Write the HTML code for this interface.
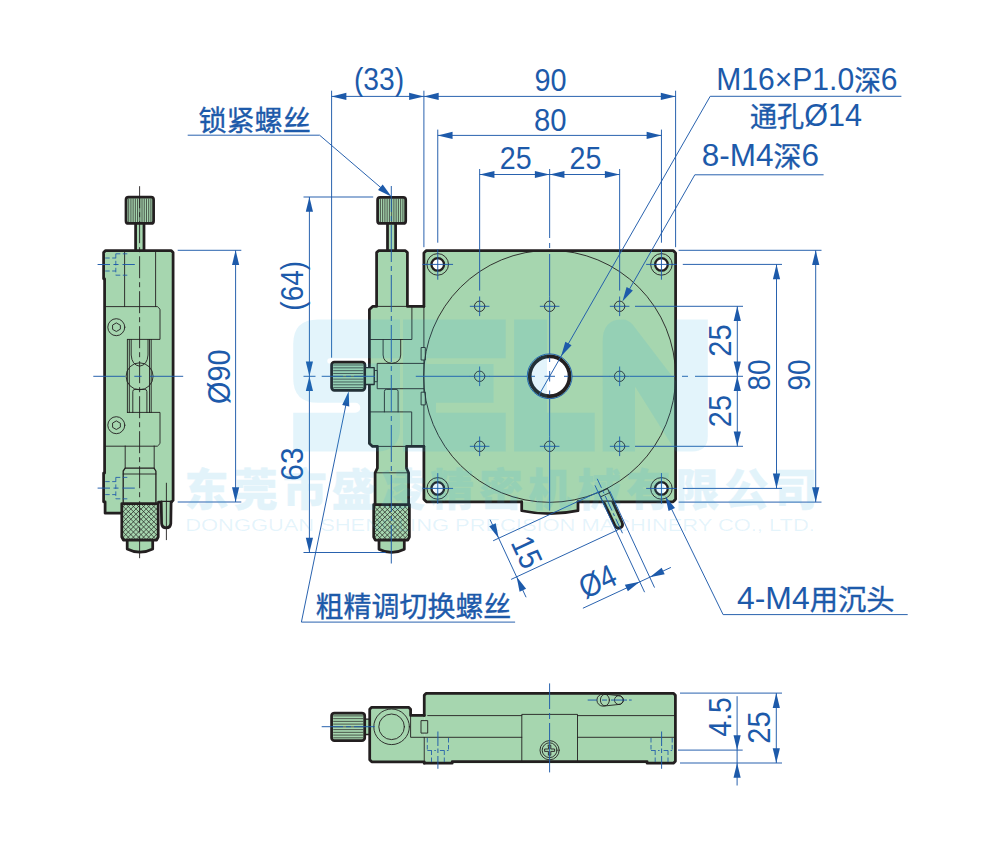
<!DOCTYPE html>
<html lang="zh-CN">
<head>
<meta charset="utf-8">
<title>Rotation stage drawing</title>
<style>
html,body{margin:0;padding:0;background:#fff;}
body{width:1001px;height:853px;overflow:hidden;}
svg{display:block;}
.t{font-family:"Liberation Sans","Noto Sans CJK SC",sans-serif;fill:#1d5aaa;}
.c{stroke:#1d5aaa;stroke-width:0.35;}
.g{fill:#a6d6af;stroke:none;}
.k{fill:none;stroke:#231f20;stroke-width:2.75;stroke-linejoin:round;stroke-linecap:round;}
.kg{fill:#a6d6af;stroke:#231f20;stroke-width:2.75;stroke-linejoin:round;stroke-linecap:round;}
.kw{fill:#ffffff;stroke:#231f20;stroke-linejoin:round;}
.m{fill:none;stroke:#231f20;stroke-width:1.3;stroke-linejoin:round;stroke-linecap:round;}
.mg{fill:#a6d6af;stroke:#231f20;stroke-width:1.3;stroke-linejoin:round;stroke-linecap:round;}
.n{fill:none;stroke:#231f20;stroke-width:0.9;stroke-linejoin:round;stroke-linecap:round;}
.ng{fill:#a6d6af;stroke:#231f20;stroke-width:0.9;stroke-linejoin:round;}
.b{fill:none;stroke:#1d5aaa;stroke-width:0.95;}
.bd{fill:none;stroke:#1d5aaa;stroke-width:0.85;stroke-dasharray:4.5 2.5;}
.bc{fill:none;stroke:#1d5aaa;stroke-width:0.95;}
.kc{fill:none;stroke:#231f20;stroke-width:0.9;stroke-dasharray:22 4 5 4;}
.ar{fill:#1d5aaa;stroke:none;}
.h{fill:none;stroke:#231f20;stroke-width:0.7;}
.wm{fill:#2aa9e0;fill-opacity:0.13;stroke:none;}
.wt{font-family:"Liberation Sans","Noto Sans CJK SC",sans-serif;font-weight:900;fill:#2aa9e0;stroke:#2aa9e0;stroke-width:0.4;stroke-linejoin:round;}
.wo{font-family:"Liberation Sans",sans-serif;fill:#2aa9e0;fill-opacity:0.12;stroke:none;}
</style>
</head>
<body>
<svg width="1001" height="853" viewBox="0 0 1001 853">
<rect x="0" y="0" width="1001" height="853" fill="#ffffff"/>

<g id="left-view">
<rect class="kg" x="135.6" y="222" width="8.4" height="30"/>
<rect class="kg" x="126" y="197.2" width="27.6" height="26.2" rx="2.5"/>
<line class="h" x1="128.7" y1="198.6" x2="128.7" y2="222"/>
<line class="h" x1="130.92" y1="198.6" x2="130.92" y2="222"/>
<line class="h" x1="133.14" y1="198.6" x2="133.14" y2="222"/>
<line class="h" x1="135.36" y1="198.6" x2="135.36" y2="222"/>
<line class="h" x1="137.58" y1="198.6" x2="137.58" y2="222"/>
<line class="h" x1="139.8" y1="198.6" x2="139.8" y2="222"/>
<line class="h" x1="142.02" y1="198.6" x2="142.02" y2="222"/>
<line class="h" x1="144.24" y1="198.6" x2="144.24" y2="222"/>
<line class="h" x1="146.46" y1="198.6" x2="146.46" y2="222"/>
<line class="h" x1="148.68" y1="198.6" x2="148.68" y2="222"/>
<line class="h" x1="150.9" y1="198.6" x2="150.9" y2="222"/>
<path class="g" d="M104.6 250.5 H173.1 V502 H159 V503 H123 V513.2 H105.1 V502 H103.6 V473 H104.6 V278.8 H103.6 V250.5 Z"/>
<line class="n" x1="124.6" y1="250.5" x2="124.6" y2="306.6"/>
<line class="n" x1="155.6" y1="250.5" x2="155.6" y2="306.6"/>
<path class="n" d="M104.7 306.6 H157.4 L160 309.2 V339.4 H127.4"/>
<path class="n" d="M127.4 412.4 H160 V443.6 L157.4 446.2 H104.7"/>
<circle class="ng" cx="139.6" cy="376.3" r="13.5"/>
<path class="n" d="M127.4 339.4 V412.6 M129.3 339.4 V412.6 M149.5 339.4 V412.6 M151.2 339.4 V412.6" stroke-width="0.8"/>
<path class="n" d="M131.2 339.4 V355 Q131.8 365 139.6 366.2 Q147.4 365 148 355 V339.4"/>
<path class="n" d="M132.8 412.6 V391.6 Q132.8 389.4 135 389.4 H144.7 Q146.9 389.4 146.9 391.6 V412.6"/>
<circle class="n" cx="116.3" cy="327.2" r="8.5"/>
<polygon class="n" points="120.02,329.35 116.3,331.5 112.58,329.35 112.58,325.05 116.3,322.9 120.02,325.05"/>
<circle class="n" cx="116.3" cy="425.2" r="8.5"/>
<polygon class="n" points="120.02,427.35 116.3,429.5 112.58,427.35 112.58,423.05 116.3,420.9 120.02,423.05"/>
<line class="n" x1="125.2" y1="446" x2="125.2" y2="468.2"/>
<line class="n" x1="154.2" y1="446" x2="154.2" y2="468.2"/>
<path class="m" d="M123.2 503.6 V471 L125.2 468.2 H154 L155.9 471 V503.6"/>
<line class="n" x1="123.2" y1="474" x2="155.9" y2="474"/>
<path class="k" d="M103.6 278.8 V252.5 L105.6 250.5 H171.1 L173.1 252.5 V500.4 L171.5 502 H158.5"/>
<path class="k" d="M104.6 278.8 V473" stroke-width="2.5"/>
<path class="k" d="M103.6 473 V501.8"/>
<path class="k" d="M105.1 501.8 V513.2 H121.8"/>
<path class="kg" d="M161.2 502 L161.6 523.5 Q162 527.8 166.2 527.8 Q170.4 527.8 170.8 523.5 L171.1 502"/>
<line class="n" x1="166.4" y1="483.2" x2="166.4" y2="539.7"/>
<path class="kg" d="M121.8 503.6 H158.2 V537 L156.6 540 H123.4 L121.8 537 Z"/>
<clipPath id="kc1"><rect x="122.8" y="504.6" width="34.4" height="34.4"/></clipPath>
<g clip-path="url(#kc1)">
<line class="h" x1="51" y1="500.6" x2="93.4" y2="543" stroke-width="0.75"/>
<line class="h" x1="93.4" y1="500.6" x2="51" y2="543" stroke-width="0.75"/>
<line class="h" x1="56.1" y1="500.6" x2="98.5" y2="543" stroke-width="0.75"/>
<line class="h" x1="98.5" y1="500.6" x2="56.1" y2="543" stroke-width="0.75"/>
<line class="h" x1="61.2" y1="500.6" x2="103.6" y2="543" stroke-width="0.75"/>
<line class="h" x1="103.6" y1="500.6" x2="61.2" y2="543" stroke-width="0.75"/>
<line class="h" x1="66.3" y1="500.6" x2="108.7" y2="543" stroke-width="0.75"/>
<line class="h" x1="108.7" y1="500.6" x2="66.3" y2="543" stroke-width="0.75"/>
<line class="h" x1="71.4" y1="500.6" x2="113.8" y2="543" stroke-width="0.75"/>
<line class="h" x1="113.8" y1="500.6" x2="71.4" y2="543" stroke-width="0.75"/>
<line class="h" x1="76.5" y1="500.6" x2="118.9" y2="543" stroke-width="0.75"/>
<line class="h" x1="118.9" y1="500.6" x2="76.5" y2="543" stroke-width="0.75"/>
<line class="h" x1="81.6" y1="500.6" x2="124" y2="543" stroke-width="0.75"/>
<line class="h" x1="124" y1="500.6" x2="81.6" y2="543" stroke-width="0.75"/>
<line class="h" x1="86.7" y1="500.6" x2="129.1" y2="543" stroke-width="0.75"/>
<line class="h" x1="129.1" y1="500.6" x2="86.7" y2="543" stroke-width="0.75"/>
<line class="h" x1="91.8" y1="500.6" x2="134.2" y2="543" stroke-width="0.75"/>
<line class="h" x1="134.2" y1="500.6" x2="91.8" y2="543" stroke-width="0.75"/>
<line class="h" x1="96.9" y1="500.6" x2="139.3" y2="543" stroke-width="0.75"/>
<line class="h" x1="139.3" y1="500.6" x2="96.9" y2="543" stroke-width="0.75"/>
<line class="h" x1="102" y1="500.6" x2="144.4" y2="543" stroke-width="0.75"/>
<line class="h" x1="144.4" y1="500.6" x2="102" y2="543" stroke-width="0.75"/>
<line class="h" x1="107.1" y1="500.6" x2="149.5" y2="543" stroke-width="0.75"/>
<line class="h" x1="149.5" y1="500.6" x2="107.1" y2="543" stroke-width="0.75"/>
<line class="h" x1="112.2" y1="500.6" x2="154.6" y2="543" stroke-width="0.75"/>
<line class="h" x1="154.6" y1="500.6" x2="112.2" y2="543" stroke-width="0.75"/>
<line class="h" x1="117.3" y1="500.6" x2="159.7" y2="543" stroke-width="0.75"/>
<line class="h" x1="159.7" y1="500.6" x2="117.3" y2="543" stroke-width="0.75"/>
<line class="h" x1="122.4" y1="500.6" x2="164.8" y2="543" stroke-width="0.75"/>
<line class="h" x1="164.8" y1="500.6" x2="122.4" y2="543" stroke-width="0.75"/>
<line class="h" x1="127.5" y1="500.6" x2="169.9" y2="543" stroke-width="0.75"/>
<line class="h" x1="169.9" y1="500.6" x2="127.5" y2="543" stroke-width="0.75"/>
<line class="h" x1="132.6" y1="500.6" x2="175" y2="543" stroke-width="0.75"/>
<line class="h" x1="175" y1="500.6" x2="132.6" y2="543" stroke-width="0.75"/>
<line class="h" x1="137.7" y1="500.6" x2="180.1" y2="543" stroke-width="0.75"/>
<line class="h" x1="180.1" y1="500.6" x2="137.7" y2="543" stroke-width="0.75"/>
<line class="h" x1="142.8" y1="500.6" x2="185.2" y2="543" stroke-width="0.75"/>
<line class="h" x1="185.2" y1="500.6" x2="142.8" y2="543" stroke-width="0.75"/>
<line class="h" x1="147.9" y1="500.6" x2="190.3" y2="543" stroke-width="0.75"/>
<line class="h" x1="190.3" y1="500.6" x2="147.9" y2="543" stroke-width="0.75"/>
<line class="h" x1="153" y1="500.6" x2="195.4" y2="543" stroke-width="0.75"/>
<line class="h" x1="195.4" y1="500.6" x2="153" y2="543" stroke-width="0.75"/>
<line class="h" x1="158.1" y1="500.6" x2="200.5" y2="543" stroke-width="0.75"/>
<line class="h" x1="200.5" y1="500.6" x2="158.1" y2="543" stroke-width="0.75"/>
<line class="h" x1="163.2" y1="500.6" x2="205.6" y2="543" stroke-width="0.75"/>
<line class="h" x1="205.6" y1="500.6" x2="163.2" y2="543" stroke-width="0.75"/>
<line class="h" x1="168.3" y1="500.6" x2="210.7" y2="543" stroke-width="0.75"/>
<line class="h" x1="210.7" y1="500.6" x2="168.3" y2="543" stroke-width="0.75"/>
<line class="h" x1="173.4" y1="500.6" x2="215.8" y2="543" stroke-width="0.75"/>
<line class="h" x1="215.8" y1="500.6" x2="173.4" y2="543" stroke-width="0.75"/>
<line class="h" x1="178.5" y1="500.6" x2="220.9" y2="543" stroke-width="0.75"/>
<line class="h" x1="220.9" y1="500.6" x2="178.5" y2="543" stroke-width="0.75"/>
<line class="h" x1="183.6" y1="500.6" x2="226" y2="543" stroke-width="0.75"/>
<line class="h" x1="226" y1="500.6" x2="183.6" y2="543" stroke-width="0.75"/>
<line class="h" x1="188.7" y1="500.6" x2="231.1" y2="543" stroke-width="0.75"/>
<line class="h" x1="231.1" y1="500.6" x2="188.7" y2="543" stroke-width="0.75"/>
<line class="h" x1="193.8" y1="500.6" x2="236.2" y2="543" stroke-width="0.75"/>
<line class="h" x1="236.2" y1="500.6" x2="193.8" y2="543" stroke-width="0.75"/>
<line class="h" x1="198.9" y1="500.6" x2="241.3" y2="543" stroke-width="0.75"/>
<line class="h" x1="241.3" y1="500.6" x2="198.9" y2="543" stroke-width="0.75"/>
</g>
<path class="kg" d="M127.2 540 V549 Q139.9 555.4 152.7 549 V540 Z"/>
<path class="bd" d="M105.2 258 H115.8 M105.2 271 H115.8 M115.8 253.8 V275.2 M115.8 253.8 H128.7 M115.8 275.2 H128.7"/>
<path class="b" d="M97.6 264.5 H110 M113.5 264.5 H118.5 M122.5 264.5 H134.8"/>
<path class="bd" d="M105.2 481.6 H115.8 M105.2 494.6 H115.8 M115.8 477.4 V498.8 M115.8 477.4 H128.7 M115.8 498.8 H128.7"/>
<path class="b" d="M97.6 488.1 H110 M113.5 488.1 H118.5 M122.5 488.1 H134.8"/>
<line class="kc" x1="139.6" y1="186.2" x2="139.6" y2="560" stroke-dasharray="24 4 5 4"/>
<path class="b" d="M93.3 376.3 H125.2 M134.3 376.3 H141.6 M149.8 376.3 H183.2"/>
</g>
<line class="b" x1="177.7" y1="250.3" x2="241.3" y2="250.3"/>
<line class="b" x1="177.7" y1="502" x2="241.3" y2="502"/>
<line class="b" x1="235.6" y1="250.3" x2="235.6" y2="502"/>
<polygon class="ar" points="235.6,250.3 239.2,265.1 232,265.1"/>
<polygon class="ar" points="235.6,502 232,487.2 239.2,487.2"/>
<text class="t" transform="translate(229.6,376.7) rotate(-90)" x="-27.25" y="0" font-size="32" textLength="54.51" lengthAdjust="spacingAndGlyphs">Ø90</text>
<g id="top-view">
<rect class="kg" x="387.5" y="222" width="8.1" height="30"/>
<rect class="kg" x="377.6" y="197.3" width="28.1" height="26.1" rx="2.5"/>
<line class="h" x1="380.4" y1="198.7" x2="380.4" y2="222"/>
<line class="h" x1="382.65" y1="198.7" x2="382.65" y2="222"/>
<line class="h" x1="384.9" y1="198.7" x2="384.9" y2="222"/>
<line class="h" x1="387.15" y1="198.7" x2="387.15" y2="222"/>
<line class="h" x1="389.4" y1="198.7" x2="389.4" y2="222"/>
<line class="h" x1="391.65" y1="198.7" x2="391.65" y2="222"/>
<line class="h" x1="393.9" y1="198.7" x2="393.9" y2="222"/>
<line class="h" x1="396.15" y1="198.7" x2="396.15" y2="222"/>
<line class="h" x1="398.4" y1="198.7" x2="398.4" y2="222"/>
<line class="h" x1="400.65" y1="198.7" x2="400.65" y2="222"/>
<line class="h" x1="402.9" y1="198.7" x2="402.9" y2="222"/>
<rect class="kg" x="331.6" y="362.1" width="33.3" height="28.2" rx="2.8"/>
<line class="h" x1="333.2" y1="365" x2="363.4" y2="365"/>
<line class="h" x1="333.2" y1="367.83" x2="363.4" y2="367.83"/>
<line class="h" x1="333.2" y1="370.66" x2="363.4" y2="370.66"/>
<line class="h" x1="333.2" y1="373.49" x2="363.4" y2="373.49"/>
<line class="h" x1="333.2" y1="376.32" x2="363.4" y2="376.32"/>
<line class="h" x1="333.2" y1="379.15" x2="363.4" y2="379.15"/>
<line class="h" x1="333.2" y1="381.98" x2="363.4" y2="381.98"/>
<line class="h" x1="333.2" y1="384.81" x2="363.4" y2="384.81"/>
<line class="h" x1="333.2" y1="387.64" x2="363.4" y2="387.64"/>
<path class="g" d="M376.6 250.65 H407.4 V306.4 H424 V446.4 H406.5 V468.2 L408.6 472.8 V505 H375.1 V472.8 L377.4 468.2 V446.4 H372.4 L369.4 443.4 V309.4 L372.4 306.4 H376.6 Z"/>
<path class="g" d="M423.9 250.5 H675.6 V501.8 H423.9 Z"/>
<path class="g" d="M521.7 501.8 V510.73 A137.3 137.3 0 0 0 578 510.64 V501.8 Z"/>
<path class="n" d="M369.4 339.5 H411.9 V306.4"/>
<path class="n" d="M369.4 411.9 H411.7 V446.4"/>
<line class="n" x1="376.6" y1="306.4" x2="407.4" y2="306.4"/>
<line class="n" x1="377.4" y1="446.4" x2="406.5" y2="446.4"/>
<line class="n" x1="423.9" y1="306.4" x2="423.9" y2="446.4"/>
<path class="n" d="M383.1 339.5 V355 Q383.4 362.6 391.9 363.4 Q400.4 362.6 400.7 355 V339.5"/>
<path class="n" d="M423.9 363.4 H377.2 V388.7 H423.9"/>
<path class="n" d="M384.4 411.9 V391.4 Q384.4 389.4 386.4 389.4 H396.1 Q398.1 389.4 398.1 391.4 V411.9"/>
<rect class="ng" x="421.1" y="347.5" width="4.2" height="12.5"/>
<rect class="ng" x="421.1" y="392.2" width="4.2" height="12.7"/>
<line class="n" x1="375.1" y1="472.8" x2="408.6" y2="472.8"/>
<circle class="n" cx="549.65" cy="376.3" r="126" stroke-width="1.05"/>
<path class="n" d="M598.53 492.52 L605.26 507.04 M607.42 488.4 L614.15 502.91 M598.65 492.8 L607.54 488.67 M600.55 496.88 L609.44 492.75"/>
<path class="k" d="M423.9 306.4 H407.4 V252.6 L405.4 250.65 H378.6 L376.6 252.6 V306.4 H372.6 L369.4 309.4 V443.4 L372.6 446.4 H377.4 V468.2 L375.1 472.8 V504.6"/>
<path class="k" d="M423.9 446.4 H406.5 V468.2 L408.6 472.8 V504.6"/>
<rect class="ng" x="374.2" y="370.5" width="3" height="11.2"/>
<rect class="mg" x="365.4" y="367.6" width="8.8" height="16.9"/>
<path class="k" d="M423.9 306.4 V253 L426.4 250.5 H673.1 L675.6 253 V499.3 L673.1 501.8 H578"/>
<path class="k" d="M521.7 501.8 H426.4 L423.9 499.3 V446.4"/>
<path class="k" d="M521.7 501.8 V510.73 A137.3 137.3 0 0 0 578 510.64 V501.8"/>
<clipPath id="pinclip"><rect x="580" y="501.8" width="70" height="60"/></clipPath>
<g clip-path="url(#pinclip)">
<path class="kg" d="M600.85 495.86 L614.8 525.21 Q616.87 529.43 620.32 527.83 Q623.77 526.23 621.88 521.93 L608.47 492.32 Z"/>
</g>
<path class="kg" d="M373.7 504.6 H409.4 V537 L407.8 540 H375.3 L373.7 537 Z"/>
<clipPath id="kc2"><rect x="374.7" y="505.6" width="33.7" height="33.4"/></clipPath>
<g clip-path="url(#kc2)">
<line class="h" x1="302.9" y1="501.6" x2="344.3" y2="543" stroke-width="0.75"/>
<line class="h" x1="344.3" y1="501.6" x2="302.9" y2="543" stroke-width="0.75"/>
<line class="h" x1="308" y1="501.6" x2="349.4" y2="543" stroke-width="0.75"/>
<line class="h" x1="349.4" y1="501.6" x2="308" y2="543" stroke-width="0.75"/>
<line class="h" x1="313.1" y1="501.6" x2="354.5" y2="543" stroke-width="0.75"/>
<line class="h" x1="354.5" y1="501.6" x2="313.1" y2="543" stroke-width="0.75"/>
<line class="h" x1="318.2" y1="501.6" x2="359.6" y2="543" stroke-width="0.75"/>
<line class="h" x1="359.6" y1="501.6" x2="318.2" y2="543" stroke-width="0.75"/>
<line class="h" x1="323.3" y1="501.6" x2="364.7" y2="543" stroke-width="0.75"/>
<line class="h" x1="364.7" y1="501.6" x2="323.3" y2="543" stroke-width="0.75"/>
<line class="h" x1="328.4" y1="501.6" x2="369.8" y2="543" stroke-width="0.75"/>
<line class="h" x1="369.8" y1="501.6" x2="328.4" y2="543" stroke-width="0.75"/>
<line class="h" x1="333.5" y1="501.6" x2="374.9" y2="543" stroke-width="0.75"/>
<line class="h" x1="374.9" y1="501.6" x2="333.5" y2="543" stroke-width="0.75"/>
<line class="h" x1="338.6" y1="501.6" x2="380" y2="543" stroke-width="0.75"/>
<line class="h" x1="380" y1="501.6" x2="338.6" y2="543" stroke-width="0.75"/>
<line class="h" x1="343.7" y1="501.6" x2="385.1" y2="543" stroke-width="0.75"/>
<line class="h" x1="385.1" y1="501.6" x2="343.7" y2="543" stroke-width="0.75"/>
<line class="h" x1="348.8" y1="501.6" x2="390.2" y2="543" stroke-width="0.75"/>
<line class="h" x1="390.2" y1="501.6" x2="348.8" y2="543" stroke-width="0.75"/>
<line class="h" x1="353.9" y1="501.6" x2="395.3" y2="543" stroke-width="0.75"/>
<line class="h" x1="395.3" y1="501.6" x2="353.9" y2="543" stroke-width="0.75"/>
<line class="h" x1="359" y1="501.6" x2="400.4" y2="543" stroke-width="0.75"/>
<line class="h" x1="400.4" y1="501.6" x2="359" y2="543" stroke-width="0.75"/>
<line class="h" x1="364.1" y1="501.6" x2="405.5" y2="543" stroke-width="0.75"/>
<line class="h" x1="405.5" y1="501.6" x2="364.1" y2="543" stroke-width="0.75"/>
<line class="h" x1="369.2" y1="501.6" x2="410.6" y2="543" stroke-width="0.75"/>
<line class="h" x1="410.6" y1="501.6" x2="369.2" y2="543" stroke-width="0.75"/>
<line class="h" x1="374.3" y1="501.6" x2="415.7" y2="543" stroke-width="0.75"/>
<line class="h" x1="415.7" y1="501.6" x2="374.3" y2="543" stroke-width="0.75"/>
<line class="h" x1="379.4" y1="501.6" x2="420.8" y2="543" stroke-width="0.75"/>
<line class="h" x1="420.8" y1="501.6" x2="379.4" y2="543" stroke-width="0.75"/>
<line class="h" x1="384.5" y1="501.6" x2="425.9" y2="543" stroke-width="0.75"/>
<line class="h" x1="425.9" y1="501.6" x2="384.5" y2="543" stroke-width="0.75"/>
<line class="h" x1="389.6" y1="501.6" x2="431" y2="543" stroke-width="0.75"/>
<line class="h" x1="431" y1="501.6" x2="389.6" y2="543" stroke-width="0.75"/>
<line class="h" x1="394.7" y1="501.6" x2="436.1" y2="543" stroke-width="0.75"/>
<line class="h" x1="436.1" y1="501.6" x2="394.7" y2="543" stroke-width="0.75"/>
<line class="h" x1="399.8" y1="501.6" x2="441.2" y2="543" stroke-width="0.75"/>
<line class="h" x1="441.2" y1="501.6" x2="399.8" y2="543" stroke-width="0.75"/>
<line class="h" x1="404.9" y1="501.6" x2="446.3" y2="543" stroke-width="0.75"/>
<line class="h" x1="446.3" y1="501.6" x2="404.9" y2="543" stroke-width="0.75"/>
<line class="h" x1="410" y1="501.6" x2="451.4" y2="543" stroke-width="0.75"/>
<line class="h" x1="451.4" y1="501.6" x2="410" y2="543" stroke-width="0.75"/>
<line class="h" x1="415.1" y1="501.6" x2="456.5" y2="543" stroke-width="0.75"/>
<line class="h" x1="456.5" y1="501.6" x2="415.1" y2="543" stroke-width="0.75"/>
<line class="h" x1="420.2" y1="501.6" x2="461.6" y2="543" stroke-width="0.75"/>
<line class="h" x1="461.6" y1="501.6" x2="420.2" y2="543" stroke-width="0.75"/>
<line class="h" x1="425.3" y1="501.6" x2="466.7" y2="543" stroke-width="0.75"/>
<line class="h" x1="466.7" y1="501.6" x2="425.3" y2="543" stroke-width="0.75"/>
<line class="h" x1="430.4" y1="501.6" x2="471.8" y2="543" stroke-width="0.75"/>
<line class="h" x1="471.8" y1="501.6" x2="430.4" y2="543" stroke-width="0.75"/>
<line class="h" x1="435.5" y1="501.6" x2="476.9" y2="543" stroke-width="0.75"/>
<line class="h" x1="476.9" y1="501.6" x2="435.5" y2="543" stroke-width="0.75"/>
<line class="h" x1="440.6" y1="501.6" x2="482" y2="543" stroke-width="0.75"/>
<line class="h" x1="482" y1="501.6" x2="440.6" y2="543" stroke-width="0.75"/>
<line class="h" x1="445.7" y1="501.6" x2="487.1" y2="543" stroke-width="0.75"/>
<line class="h" x1="487.1" y1="501.6" x2="445.7" y2="543" stroke-width="0.75"/>
<line class="h" x1="450.8" y1="501.6" x2="492.2" y2="543" stroke-width="0.75"/>
<line class="h" x1="492.2" y1="501.6" x2="450.8" y2="543" stroke-width="0.75"/>
</g>
<path class="kg" d="M379 540 V549.2 Q391.6 555.6 404.3 549.2 V540 Z"/>
<circle class="kw" cx="549.65" cy="376.3" r="19.9" stroke-width="3.7"/>
<circle class="b" cx="549.65" cy="376.3" r="22.4" stroke-width="0.9"/>
<circle class="n" cx="437.75" cy="264.4" r="10.8"/>
<circle class="kw" cx="437.75" cy="264.4" r="6.3" stroke-width="2.3"/>
<line class="b" x1="422.45" y1="264.4" x2="453.05" y2="264.4"/>
<line class="b" x1="437.75" y1="249.1" x2="437.75" y2="279.7"/>
<circle class="n" cx="437.75" cy="488.4" r="10.8"/>
<circle class="kw" cx="437.75" cy="488.4" r="6.3" stroke-width="2.3"/>
<line class="b" x1="422.45" y1="488.4" x2="453.05" y2="488.4"/>
<line class="b" x1="437.75" y1="473.1" x2="437.75" y2="503.7"/>
<circle class="n" cx="661.45" cy="264.4" r="10.8"/>
<circle class="kw" cx="661.45" cy="264.4" r="6.3" stroke-width="2.3"/>
<line class="b" x1="646.15" y1="264.4" x2="676.75" y2="264.4"/>
<line class="b" x1="661.45" y1="249.1" x2="661.45" y2="279.7"/>
<circle class="n" cx="661.45" cy="488.4" r="10.8"/>
<circle class="kw" cx="661.45" cy="488.4" r="6.3" stroke-width="2.3"/>
<line class="b" x1="646.15" y1="488.4" x2="676.75" y2="488.4"/>
<line class="b" x1="661.45" y1="473.1" x2="661.45" y2="503.7"/>
<circle class="n" cx="479.65" cy="306.3" r="5.2" stroke="#1a2f5e" stroke-width="1"/>
<line class="b" x1="469.85" y1="306.3" x2="489.45" y2="306.3"/>
<line class="b" x1="479.65" y1="296.5" x2="479.65" y2="316.1"/>
<circle class="n" cx="479.65" cy="376.3" r="5.2" stroke="#1a2f5e" stroke-width="1"/>
<line class="b" x1="469.85" y1="376.3" x2="489.45" y2="376.3"/>
<line class="b" x1="479.65" y1="366.5" x2="479.65" y2="386.1"/>
<circle class="n" cx="479.65" cy="446.3" r="5.2" stroke="#1a2f5e" stroke-width="1"/>
<line class="b" x1="469.85" y1="446.3" x2="489.45" y2="446.3"/>
<line class="b" x1="479.65" y1="436.5" x2="479.65" y2="456.1"/>
<circle class="n" cx="549.65" cy="306.3" r="5.2" stroke="#1a2f5e" stroke-width="1"/>
<line class="b" x1="539.85" y1="306.3" x2="559.45" y2="306.3"/>
<line class="b" x1="549.65" y1="296.5" x2="549.65" y2="316.1"/>
<circle class="n" cx="549.65" cy="446.3" r="5.2" stroke="#1a2f5e" stroke-width="1"/>
<line class="b" x1="539.85" y1="446.3" x2="559.45" y2="446.3"/>
<line class="b" x1="549.65" y1="436.5" x2="549.65" y2="456.1"/>
<circle class="n" cx="619.65" cy="306.3" r="5.2" stroke="#1a2f5e" stroke-width="1"/>
<line class="b" x1="609.85" y1="306.3" x2="629.45" y2="306.3"/>
<line class="b" x1="619.65" y1="296.5" x2="619.65" y2="316.1"/>
<circle class="n" cx="619.65" cy="376.3" r="5.2" stroke="#1a2f5e" stroke-width="1"/>
<line class="b" x1="609.85" y1="376.3" x2="629.45" y2="376.3"/>
<line class="b" x1="619.65" y1="366.5" x2="619.65" y2="386.1"/>
<circle class="n" cx="619.65" cy="446.3" r="5.2" stroke="#1a2f5e" stroke-width="1"/>
<line class="b" x1="609.85" y1="446.3" x2="629.45" y2="446.3"/>
<line class="b" x1="619.65" y1="436.5" x2="619.65" y2="456.1"/>
</g>
<path class="b" d="M391.3 186 V212 M391.3 216 V221 M391.3 225 V262 M391.3 266 V271 M391.3 275 V312 M391.3 316 V321 M391.3 325 V362 M391.3 366 V371 M391.3 375 V412 M391.3 416 V421 M391.3 425 V462 M391.3 466 V471 M391.3 475 V512 M391.3 516 V521 M391.3 525 V563.5"/>
<path class="b" d="M303.5 376.3 H315.5 M321.7 376.3 H343 M346 376.3 H351 M354 376.3 H375"/>
<path class="b" d="M415.8 376.3 H470 M489 376.3 H527 M531 376.3 H535 M544.5 376.3 H555 M564 376.3 H568.5 M572 376.3 H610 M629.5 376.3 H675 M682 376.3 H688 M695 376.3 H743"/>
<path class="b" d="M549.65 169 V238 M549.65 243 V248 M549.65 254 V296.5 M549.65 316 V354 M549.65 357.5 V362 M549.65 371 V381.5 M549.65 390.5 V395 M549.65 398.5 V436.5 M549.65 456 V510.6"/>
<line class="b" x1="331.6" y1="90.7" x2="331.6" y2="357.7"/>
<line class="b" x1="423.9" y1="90.7" x2="423.9" y2="247.2"/>
<line class="b" x1="675.6" y1="90.7" x2="675.6" y2="247.2"/>
<line class="b" x1="331.6" y1="96.4" x2="675.6" y2="96.4"/>
<polygon class="ar" points="331.6,96.4 346.4,92.8 346.4,100"/>
<polygon class="ar" points="423.9,96.4 409.1,100 409.1,92.8"/>
<polygon class="ar" points="423.9,96.4 438.7,92.8 438.7,100"/>
<polygon class="ar" points="675.6,96.4 660.8,100 660.8,92.8"/>
<text class="t" transform="translate(379,90.4)" x="-25.04" y="0" font-size="32" textLength="50.18" lengthAdjust="spacingAndGlyphs">(33)</text>
<text class="t" transform="translate(550.6,90.5)" x="-16.1" y="0" font-size="32" textLength="32.12" lengthAdjust="spacingAndGlyphs">90</text>
<line class="b" x1="437.75" y1="129.6" x2="437.75" y2="242.7"/>
<line class="b" x1="661.45" y1="129.6" x2="661.45" y2="242.7"/>
<line class="b" x1="437.75" y1="135.4" x2="661.45" y2="135.4"/>
<polygon class="ar" points="437.75,135.4 452.55,131.8 452.55,139"/>
<polygon class="ar" points="661.45,135.4 646.65,139 646.65,131.8"/>
<text class="t" transform="translate(550.3,130.5)" x="-16.32" y="0" font-size="32" textLength="32.56" lengthAdjust="spacingAndGlyphs">80</text>
<line class="b" x1="479.65" y1="169" x2="479.65" y2="290.6"/>
<line class="b" x1="619.65" y1="169" x2="619.65" y2="290.6"/>
<line class="b" x1="479.65" y1="174.5" x2="619.65" y2="174.5"/>
<polygon class="ar" points="479.65,174.5 494.45,170.9 494.45,178.1"/>
<polygon class="ar" points="549.65,174.5 534.85,178.1 534.85,170.9"/>
<polygon class="ar" points="549.65,174.5 564.45,170.9 564.45,178.1"/>
<polygon class="ar" points="619.65,174.5 604.85,178.1 604.85,170.9"/>
<text class="t" transform="translate(515.8,169.1)" x="-16.03" y="0" font-size="32" textLength="31.84" lengthAdjust="spacingAndGlyphs">25</text>
<text class="t" transform="translate(585.6,169.1)" x="-16.03" y="0" font-size="32" textLength="31.84" lengthAdjust="spacingAndGlyphs">25</text>
<line class="b" x1="303.5" y1="197" x2="373.2" y2="197"/>
<line class="b" x1="303.5" y1="552.5" x2="385.7" y2="552.5"/>
<line class="b" x1="309.4" y1="197" x2="309.4" y2="552.5"/>
<polygon class="ar" points="309.4,197 313,211.8 305.8,211.8"/>
<polygon class="ar" points="309.4,376.3 305.8,361.5 313,361.5"/>
<polygon class="ar" points="309.4,376.3 313,391.1 305.8,391.1"/>
<polygon class="ar" points="309.4,552.5 305.8,537.7 313,537.7"/>
<text class="t" transform="translate(303.3,285.8) rotate(-90)" x="-24.83" y="0" font-size="32" textLength="49.75" lengthAdjust="spacingAndGlyphs">(64)</text>
<text class="t" transform="translate(302.6,464) rotate(-90)" x="-16.7" y="0" font-size="32" textLength="33.32" lengthAdjust="spacingAndGlyphs">63</text>
<line class="b" x1="678.6" y1="250.3" x2="821.5" y2="250.3"/>
<line class="b" x1="682.8" y1="264.4" x2="782" y2="264.4"/>
<line class="b" x1="635" y1="306.3" x2="743" y2="306.3"/>
<line class="b" x1="635" y1="446.3" x2="743" y2="446.3"/>
<line class="b" x1="682.8" y1="488.4" x2="782" y2="488.4"/>
<line class="b" x1="678.6" y1="502.1" x2="821.5" y2="502.1"/>
<line class="b" x1="737.3" y1="306.3" x2="737.3" y2="446.3"/>
<polygon class="ar" points="737.3,306.3 740.9,321.1 733.7,321.1"/>
<polygon class="ar" points="737.3,376.3 733.7,361.5 740.9,361.5"/>
<polygon class="ar" points="737.3,376.3 740.9,391.1 733.7,391.1"/>
<polygon class="ar" points="737.3,446.3 733.7,431.5 740.9,431.5"/>
<line class="b" x1="776.5" y1="264.4" x2="776.5" y2="488.4"/>
<polygon class="ar" points="776.5,264.4 780.1,279.2 772.9,279.2"/>
<polygon class="ar" points="776.5,488.4 772.9,473.6 780.1,473.6"/>
<line class="b" x1="815.7" y1="250.3" x2="815.7" y2="502.1"/>
<polygon class="ar" points="815.7,250.3 819.3,265.1 812.1,265.1"/>
<polygon class="ar" points="815.7,502.1 812.1,487.3 819.3,487.3"/>
<text class="t" transform="translate(731.4,340.4) rotate(-90)" x="-16.25" y="0" font-size="32" textLength="32.28" lengthAdjust="spacingAndGlyphs">25</text>
<text class="t" transform="translate(731.4,411) rotate(-90)" x="-16.14" y="0" font-size="32" textLength="32.06" lengthAdjust="spacingAndGlyphs">25</text>
<text class="t" transform="translate(770.3,375) rotate(-90)" x="-15.56" y="0" font-size="32" textLength="31.04" lengthAdjust="spacingAndGlyphs">80</text>
<text class="t" transform="translate(810.2,375) rotate(-90)" x="-15.56" y="0" font-size="32" textLength="31.04" lengthAdjust="spacingAndGlyphs">90</text>
<path class="b" d="M187.7 135.2 L319.6 135.2 L381.11 187.83"/>
<polygon class="ar" points="391.6,196.8 378.01,189.91 382.69,184.44"/>
<text class="t c" transform="translate(254.3,131)" x="-55.93" y="0" font-size="28.4" textLength="112.43" lengthAdjust="spacingAndGlyphs">锁紧螺丝</text>
<path class="b" d="M515.1 622.1 L301.4 622.1 L345.93 404.82"/>
<polygon class="ar" points="348.7,391.3 349.26,406.52 342.2,405.08"/>
<text class="t c" transform="translate(413.3,617.3)" x="-97.76" y="0" font-size="28.4" textLength="195.8" lengthAdjust="spacingAndGlyphs">粗精调切换螺丝</text>
<path class="b" d="M901.4 96.3 H710.2 L538.41 395.91"/>
<polygon class="ar" points="561.09,356.35 565.33,341.72 571.58,345.3"/>
<text class="t" transform="translate(807.4,89.7)" x="-91.21" y="0" font-size="32" textLength="181.4" lengthAdjust="spacingAndGlyphs">M16×P1.0<tspan class="c" font-size="28.4" dy="1.3">深</tspan><tspan dy="-1.3">6</tspan></text>
<text class="t" transform="translate(806,125.8)" x="-56.03" y="0" font-size="32" textLength="111.9" lengthAdjust="spacingAndGlyphs"><tspan class="c" font-size="28.4" dy="1.3">通孔</tspan><tspan dy="-1.3">Ø14</tspan></text>
<path class="b" d="M823.6 174.8 L694.8 174.8 L629.24 289.62"/>
<polygon class="ar" points="622.4,301.6 626.61,286.96 632.86,290.53"/>
<text class="t" transform="translate(760.3,166)" x="-58.57" y="0" font-size="32" textLength="117.17" lengthAdjust="spacingAndGlyphs">8-M4<tspan class="c" font-size="28.4" dy="1.3">深</tspan><tspan dy="-1.3">6</tspan></text>
<path class="b" d="M907.7 614.6 L723.1 614.6 L671.35 508.6"/>
<polygon class="ar" points="665.3,496.2 675.03,507.92 668.56,511.08"/>
<text class="t" transform="translate(815.4,608.6)" x="-78.4" y="0" font-size="32" textLength="157.55" lengthAdjust="spacingAndGlyphs">4-M4<tspan class="c" font-size="28.4" dy="1.3">用沉头</tspan></text>
<line class="b" x1="600.18" y1="491.1" x2="493.15" y2="540.78"/>
<line class="b" x1="618.12" y1="529.74" x2="511.09" y2="579.42"/>
<line class="b" x1="490.05" y1="519.62" x2="526.09" y2="597.26"/>
<polygon class="ar" points="498.68,538.21 489.19,526.3 495.72,523.27"/>
<polygon class="ar" points="516.62,576.85 526.11,588.76 519.58,591.79"/>
<text class="t" transform="translate(516.97,557.17) rotate(65.1)" x="-16.11" y="0" font-size="32" textLength="31.3" lengthAdjust="spacingAndGlyphs">15</text>
<line class="b" x1="594.98" y1="485.35" x2="644.58" y2="592.2"/>
<line class="b" x1="609.59" y1="490.7" x2="654.55" y2="587.57"/>
<line class="b" x1="582.9" y1="608.26" x2="670.89" y2="567.42"/>
<polygon class="ar" points="639.78,581.86 627.87,591.36 624.84,584.83"/>
<polygon class="ar" points="649.75,577.23 661.66,567.73 664.69,574.26"/>
<text class="t" transform="translate(602.24,591.24) rotate(-24.9)" x="-18.87" y="0" font-size="32" textLength="37.44" lengthAdjust="spacingAndGlyphs">Ø4</text>
<path class="b" d="M597.23 478.8 L601.44 487.87 M602.7 490.59 L603.96 493.31 M605.23 496.03 L611.96 510.54 M613.23 513.26 L614.49 515.98 M615.75 518.71 L622.49 533.22"/>
<g id="front-view">
<rect class="mg" x="364.7" y="719.2" width="5" height="15.3"/>
<rect class="kg" x="331.6" y="713" width="33.1" height="27.7" rx="2.8"/>
<line class="h" x1="333.2" y1="715.9" x2="363.2" y2="715.9"/>
<line class="h" x1="333.2" y1="718.64" x2="363.2" y2="718.64"/>
<line class="h" x1="333.2" y1="721.38" x2="363.2" y2="721.38"/>
<line class="h" x1="333.2" y1="724.12" x2="363.2" y2="724.12"/>
<line class="h" x1="333.2" y1="726.86" x2="363.2" y2="726.86"/>
<line class="h" x1="333.2" y1="729.6" x2="363.2" y2="729.6"/>
<line class="h" x1="333.2" y1="732.34" x2="363.2" y2="732.34"/>
<line class="h" x1="333.2" y1="735.08" x2="363.2" y2="735.08"/>
<line class="h" x1="333.2" y1="737.82" x2="363.2" y2="737.82"/>
<path class="g" d="M369.7 707.3 H408.6 L410.6 709.3 V715.4 H424.25 V762 H369.7 Z"/>
<path class="g" d="M424.25 693.3 H675.4 V763.2 H424.25 Z"/>
<path class="n" d="M410.6 715.4 V737.3 H521.8 M427.7 715.6 H521.8 M577.5 715.6 H675.4 M577.5 737.3 H675.4"/>
<path class="n" d="M424.25 737.3 V762"/>
<rect class="ng" x="421" y="720.6" width="6.7" height="12.5"/>
<circle class="n" cx="391.6" cy="726.8" r="17.8"/>
<circle class="n" cx="391.6" cy="726.8" r="12.8"/>
<path class="n" d="M521.8 761.6 V714.4 H577.5 V761.6"/>
<circle class="n" cx="549.6" cy="750.2" r="9.6"/>
<circle class="n" cx="549.6" cy="750.2" r="7.4"/>
<path class="n" d="M548.4 745.2 h2.4 v3.8 h3.8 v2.4 h-3.8 v3.8 h-2.4 v-3.8 h-3.8 v-2.4 h3.8 z" stroke-width="0.8"/>
<path class="n" d="M603 693.95 A6.1 6.1 0 0 0 603 706.15 L619 704.45 A4.4 4.4 0 0 0 619 695.65 Z"/>
<ellipse class="n" cx="604.9" cy="700.05" rx="4.5" ry="5.7"/>
<circle class="n" cx="618.9" cy="700.05" r="4.4"/>
<path class="b" d="M587.7 700.05 H597 M602 700.05 H607 M611 700.05 H627 M629 700.05 H631.7"/>
<path class="k" d="M424.25 715.4 V695.3 L426.25 693.3 H673.4 L675.4 695.3 V761.2 L673.4 763.2 H647.1 V761.6 H452.2 V763.2 H424.25"/>
<path class="k" d="M424.25 715.4 H410.6 V709.3 L408.6 707.3 H371.7 L369.7 709.3 V759.8 L371.7 761.8 H424.25 V763.2"/>
<path class="bd" d="M427.3 738 V750.5 M448.5 738 V750.5 M427.3 750.5 H435.9 M439.9 750.5 H448.5 M431.5 750.5 V762 M444.3 750.5 V762"/>
<path class="b" d="M437.9 731.5 V746 M437.9 748.5 V753 M437.9 756 V768.8"/>
<path class="bd" d="M651 738 V750.5 M672.2 738 V750.5 M651 750.5 H659.6 M663.6 750.5 H672.2 M655.2 750.5 V762 M668 750.5 V762"/>
<path class="b" d="M661.6 731.5 V746 M661.6 748.5 V753 M661.6 756 V768.8"/>
<path class="b" d="M549.6 683.4 V709 M549.6 713 V719 M549.6 723 V772.4"/>
<path class="b" d="M321.7 726.7 H343 M346 726.7 H351 M354 726.7 H374.8"/>
</g>
<line class="b" x1="680" y1="693.1" x2="782" y2="693.1"/>
<line class="b" x1="678" y1="750.1" x2="742.7" y2="750.1"/>
<line class="b" x1="680" y1="763" x2="782" y2="763"/>
<line class="b" x1="737.1" y1="696.2" x2="737.1" y2="785.5"/>
<polygon class="ar" points="737.1,750.1 733.5,735.3 740.7,735.3"/>
<polygon class="ar" points="737.1,763 740.7,777.8 733.5,777.8"/>
<line class="b" x1="776.3" y1="693.1" x2="776.3" y2="763"/>
<polygon class="ar" points="776.3,693.1 779.9,707.9 772.7,707.9"/>
<polygon class="ar" points="776.3,763 772.7,748.2 779.9,748.2"/>
<text class="t" transform="translate(731.4,717.1) rotate(-90)" x="-19.56" y="0" font-size="32" textLength="39.55" lengthAdjust="spacingAndGlyphs">4.5</text>
<text class="t" transform="translate(770.1,727.4) rotate(-90)" x="-16.25" y="0" font-size="32" textLength="32.28" lengthAdjust="spacingAndGlyphs">25</text>
<g id="watermark">
<path class="wm" d="M318 319.4 H400 V358.2 H330 A2.7 2.7 0 0 0 330 363.6 H400 V428 Q400 451.5 376 451.5 H293.2 V412.8 H355.3 A5 5 0 0 0 355.3 402.8 H318 Q293.2 402.8 293.2 378 V344 Q293.2 319.4 318 319.4 Z"/>
<path class="wm" d="M403 319.4 H505.7 V358.2 H426.5 V364.1 H493.6 V402.8 H436 V412.8 H505.7 V451.5 H403 Z"/>
<path class="wm" d="M514.1 319.4 H547 V412.8 H594.7 V451.5 H514.1 Z"/>
<path class="wm" d="M602.7 451.5 V341 Q602.7 319.4 622 319.4 Q629 319.4 633 325 L675.8 381 V319.4 H707.8 V436 Q707.8 451.5 692 451.5 H675.8 L635 386.5 V451.5 Z"/>
<g opacity="0.13">
<text class="wt" x="184.6" y="505.6" font-size="44" textLength="633" lengthAdjust="spacing">东莞市盛凌精密机械有限公司</text>
</g>
<text class="wo" x="185.3" y="530.8" font-size="16" textLength="629.5" lengthAdjust="spacingAndGlyphs">DONGGUAN SHENGLING PRECISION MACHINERY CO., LTD.</text>
</g>
</svg>
</body>
</html>
